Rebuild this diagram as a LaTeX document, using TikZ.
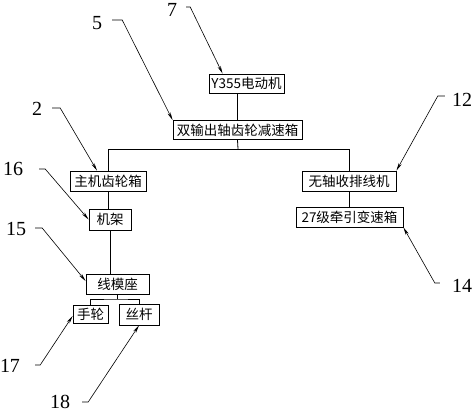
\documentclass[tikz,border=0pt]{standalone}
\usepackage{fontspec}
\setmainfont{Liberation Serif}
\newfontfamily\cjk{Noto Sans CJK SC}
\usetikzlibrary{arrows.meta}

\begin{document}
\begin{tikzpicture}[
    x=1pt, y=-1pt,
    >={Stealth[length=8pt,width=3.2pt]},
    block/.style={rectangle, draw, line width=0.8pt, inner sep=1pt,
                  minimum height=19pt, font=\cjk\fontsize{13.5}{15}\selectfont},
    num/.style={inner sep=0pt, font=\fontsize{20}{22}\selectfont},
    lead/.style={->, line width=0.6pt},
    link/.style={line width=0.8pt},
]
    \useasboundingbox (0,0) rectangle (474,413);

    % Drive train
    \node[block, minimum width=75pt] (motor) at (246.5,83.5) {Y355电动机};
    \node[block, minimum width=129pt] (reducer) at (237.5,130) {双输出轴齿轮减速箱};
    \coordinate (bus) at (238,149);

    \draw[link] (reducer.north) -- (reducer.north |- motor.south);
    \draw[link] (reducer.south) -- (bus);

    % Left branch
    \node[block, minimum width=76pt, minimum height=20pt] (gearbox) at (108,181) {主机齿轮箱};
    \node[block, minimum width=42pt, minimum height=21pt] (frame) at (110,219.5) {机架};
    \node[block, minimum width=63pt, minimum height=20pt] (seat) at (117.5,284) {线模座};
    \node[block, minimum width=35pt, minimum height=18pt] (wheel) at (90.5,314) {手轮};
    \node[block, minimum width=40pt, minimum height=21pt] (screw) at (139,314.5) {丝杆};
    \coordinate (fork) at (117,299);

    \draw[link] (gearbox.north) |- (bus);
    \draw[link] (gearbox.south) -- (gearbox.south |- frame.north);
    \draw[link] (frame.south) -- (frame.south |- seat.north);
    \draw[link] (seat.south) -- (seat.south |- fork);
    \draw[link] (wheel.north) |- (fork) -| (screw.north);

    % Right branch
    \node[block, minimum width=94pt, minimum height=20pt] (winder) at (349,181) {无轴收排线机};
    \node[block, minimum width=107pt, minimum height=20pt] (traction) at (349.5,217) {27级牵引变速箱};

    \draw[link] (bus) -| (winder.north);
    \draw[link] (winder.south) -- (winder.south |- traction.north);

    % Part numbers
    \node[num] (n7) at (172,10) {7};
    \node[num] (n5) at (97,23) {5};
    \node[num] (n2) at (37,109) {2};
    \node[num] (n16) at (13,169) {16};
    \node[num] (n15) at (16,229) {15};
    \node[num] (n17) at (10,366) {17};
    \node[num] (n18) at (60,402) {18};
    \node[num] (n12) at (462,100) {12};
    \node[num] (n14) at (462,286) {14};

    \draw[lead] ([xshift=9pt,yshift=3pt]n7.east) -- ++(4,0) -- ([xshift=14pt]motor.north west);
    \draw[lead] ([xshift=10pt,yshift=3pt]n5.east) -- ++(10,0) -- (reducer.north west);
    \draw[lead] ([xshift=10pt,yshift=1pt]n2.east) -- ++(8,0) -- ([xshift=-11pt]gearbox.north);
    \draw[lead] ([xshift=16pt]n16.east) -- ++(6,0) -- (frame.west);
    \draw[lead] ([xshift=9pt,yshift=1pt]n15.east) -- ++(7,0) -- ([yshift=3pt]seat.west);
    \draw[lead] ([xshift=15pt,yshift=1pt]n17.east) -- ++(5,0) -- ([yshift=-2pt]wheel.west);
    \draw[lead] ([xshift=12pt]n18.east) -- ++(6,0) -- (screw.south);
    \draw[lead] ([xshift=-7pt,yshift=4pt]n12.west) -- ++(-7,0) -- (winder.north east);
    \draw[lead] ([xshift=-12pt,yshift=3pt]n14.west) -- ++(-5,0) -- (traction.south east);
\end{tikzpicture}
\end{document}
